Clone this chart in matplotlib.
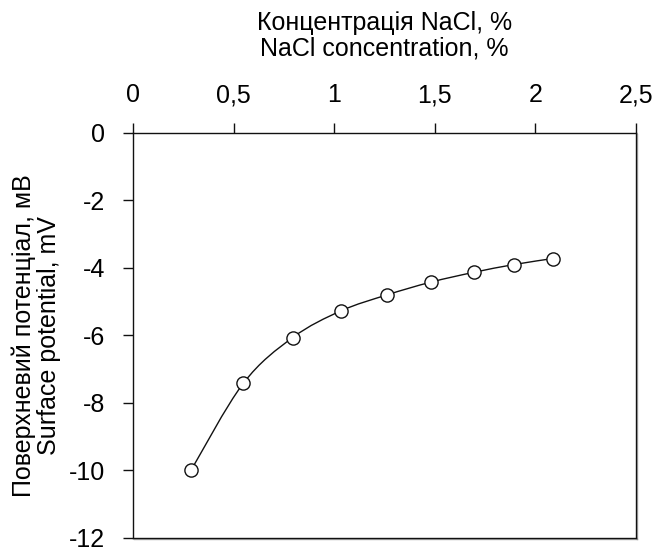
import numpy as np
import matplotlib
matplotlib.use("Agg")
import matplotlib.pyplot as plt
from matplotlib.path import Path
from matplotlib.patches import PathPatch
import matplotlib.patheffects as pe

plt.rcParams['font.family'] = ['Liberation Sans', 'DejaVu Sans']

# Data
nacl_conc = [0.288, 0.548, 0.794, 1.034, 1.261, 1.480, 1.693, 1.892, 2.087]
surface_potential = [-10.0, -7.42, -6.06, -5.27, -4.80, -4.42, -4.13, -3.90, -3.72]

x_ticks = [0, 0.5, 1, 1.5, 2, 2.5]
x_tick_labels = ["0", "0,5", "1", "1,5", "2", "2,5"]
y_ticks = [0, -2, -4, -6, -8, -10, -12]
y_tick_labels = ["0", "-2", "-4", "-6", "-8", "-10", "-12"]

x_label = "Концентрація NaCl, %\nNaCl concentration, %"
y_label = "Поверхневий потенціал, мВ\nSurface potential, mV"

FS = 18

fig = plt.figure(figsize=(6.56, 5.47), dpi=100)
ax = fig.add_axes([0.2027, 0.0165, 0.7668, 0.7404])

# smooth connecting curve (Catmull-Rom as cubic Bezier segments)
pts = np.column_stack([nacl_conc, surface_potential])
verts = [tuple(pts[0])]
codes = [Path.MOVETO]
n = len(pts)
for i in range(n - 1):
    p0 = pts[i - 1] if i > 0 else pts[i]
    p1 = pts[i]
    p2 = pts[i + 1]
    p3 = pts[i + 2] if i + 2 < n else pts[i + 1]
    c1 = p1 + (p2 - p0) / 6.0
    c2 = p2 - (p3 - p1) / 6.0
    verts += [tuple(c1), tuple(c2), tuple(p2)]
    codes += [Path.CURVE4, Path.CURVE4, Path.CURVE4]
ax.add_patch(PathPatch(Path(verts, codes), facecolor='none', edgecolor='#111111', lw=1.0, zorder=2))

ax.plot(nacl_conc, surface_potential, linestyle='none', marker='o', markersize=9.5,
        markerfacecolor='white', markeredgecolor='#111111', markeredgewidth=1.0, zorder=3)

ax.set_xlim(0, 2.5)
ax.set_ylim(-12, 0)
ax.xaxis.tick_top()
ax.xaxis.set_label_position('top')
ax.set_xticks(x_ticks)
ax.set_xticklabels(x_tick_labels, fontsize=FS)
ax.set_yticks(y_ticks)
ax.set_yticklabels(y_tick_labels, fontsize=FS)
ax.tick_params(axis='x', direction='out', length=7, width=1, pad=11.5, colors='#111111')
ax.tick_params(axis='y', direction='out', length=7, width=1, pad=13, colors='#111111')
for lbl in ax.get_xticklabels() + ax.get_yticklabels():
    lbl.set_color('black')

ax.set_xlabel(x_label, fontsize=FS, labelpad=20, linespacing=1.08)
ax.set_ylabel(y_label, fontsize=FS, labelpad=5.5, linespacing=1.08)

for side in ['left', 'top', 'right', 'bottom']:
    ax.spines[side].set_color('#111111')
    ax.spines[side].set_linewidth(1.0)
for side in ['right', 'bottom']:
    ax.spines[side].set_path_effects([
        pe.SimpleLineShadow(offset=(1, -1), shadow_color='#888888', alpha=0.7),
        pe.Normal()])

fig.savefig('out.png', dpi=100)
